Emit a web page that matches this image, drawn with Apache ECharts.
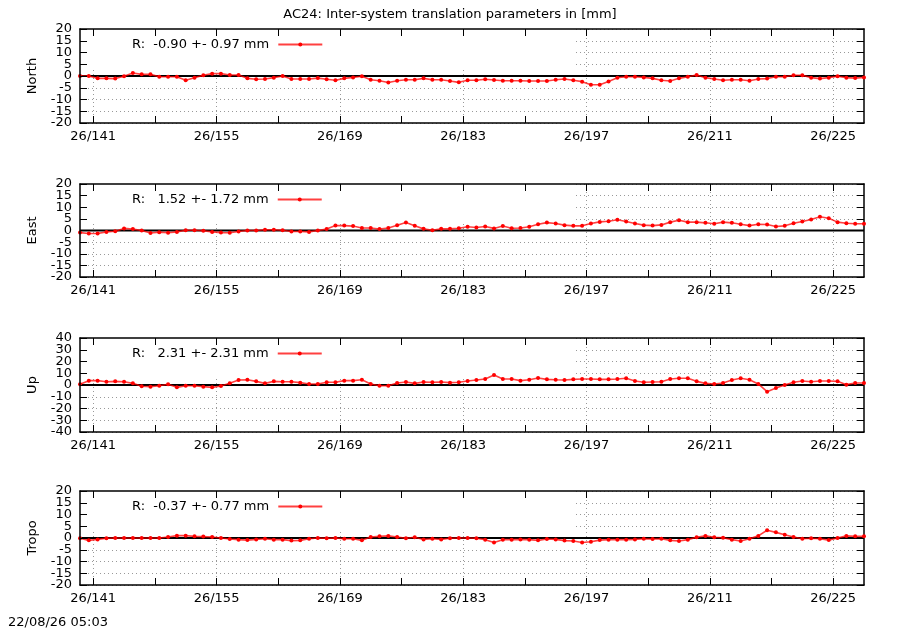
<!DOCTYPE html>
<html>
<head>
<meta charset="utf-8">
<title>AC24 inter-system translation parameters</title>
<script src="https://cdn.jsdelivr.net/npm/echarts@6/dist/echarts.min.js"></script>
<style>
	html, body { margin: 0; padding: 0; background: #fff; }
	#chart { width: 900px; height: 630px; }
</style>
</head>
<body>
<div id="chart"></div>
<script>
// texts
var TITLE = 'AC24: Inter-system translation parameters in [mm]';
var STAMP = '22/08/26 05:03';
var YEAR = '26';
var PANEL_NAMES = ['North', 'East', 'Up', 'Tropo'];
var KEY_TEXT = [
	'R:  -0.90 +- 0.97 mm ',
	'R:   1.52 +- 1.72 mm ',
	'R:   2.31 +- 2.31 mm ',
	'R:  -0.37 +- 0.77 mm '
];

// x axis (day of year), one point per day
var FIRST_DAY = 139.5;
var LAST_DAY = 228.5;
var TICK_DAYS = [141, 148, 155, 162, 169, 176, 183, 190, 197, 204, 211, 218, 225];
var LABEL_DAYS = [141, 155, 169, 183, 197, 211, 225];

// y axes
var Y_MAX = [20, 20, 40, 20];
var Y_STEP = [5, 5, 10, 5];

// values in mm
var NORTH = [0, 0, -1.0, -1.0, -1.1, -0.1, 1.3, 0.7, 0.7, -0.3,
	-0.3, -0.3, -1.8, -0.7, 0.3, 1.0, 1.0, 0.4, 0.4, -1.0,
	-1.4, -1.3, -0.7, 0.0, -1.3, -1.3, -1.3, -0.9, -1.4, -1.8,
	-1.0, -0.6, -0.1, -1.6, -2.0, -2.8, -2.0, -1.6, -1.6, -1.0,
	-1.6, -1.6, -2.1, -2.7, -1.8, -1.8, -1.4, -1.7, -2.0, -2.0,
	-2.0, -2.1, -2.1, -2.1, -1.6, -1.3, -1.8, -2.4, -3.7, -3.7,
	-2.3, -0.7, -0.3, -0.3, -0.6, -1.0, -1.8, -2.1, -1.0, -0.3,
	0.4, -0.7, -1.3, -1.8, -1.6, -1.6, -2.0, -1.3, -1.1, -0.3,
	-0.3, 0.3, 0.3, -0.7, -1.1, -0.7, -0.1, -0.7, -0.9, -0.6];
var EAST = [-0.9, -1.3, -1.3, -0.6, -0.3, 0.9, 0.6, 0, -1.1, -0.7,
	-1.0, -0.6, 0.1, 0.1, -0.1, -0.6, -0.9, -1.0, -0.4, 0,
	0, 0.3, 0.3, 0.1, -0.4, -0.4, -0.6, 0, 0.6, 2.1,
	2.1, 1.9, 1.1, 1.1, 0.6, 1.1, 2.3, 3.4, 2.0, 0.7,
	0.1, 0.7, 0.7, 1.0, 1.6, 1.3, 1.7, 0.9, 1.9, 1.0,
	1.1, 1.6, 2.7, 3.4, 3.0, 2.3, 2.0, 2.0, 3.0, 3.7,
	4.0, 4.6, 3.9, 3.0, 2.3, 2.1, 2.4, 3.6, 4.4, 3.6,
	3.6, 3.3, 2.9, 3.6, 3.3, 2.7, 2.1, 2.7, 2.6, 1.7,
	2.0, 3.1, 3.9, 4.7, 5.9, 5.3, 3.6, 3.1, 2.9, 2.9];
var UP = [0.6, 3.7, 3.7, 2.8, 3.1, 2.8, 1.4, -1.1, -1.4, -0.6,
	0.6, -2.0, -0.6, -0.6, -1.4, -2.0, -0.9, 1.4, 4.3, 4.5,
	3.1, 1.4, 3.1, 2.8, 2.8, 2.0, 0.9, 0.9, 2.3, 2.3,
	3.7, 3.7, 4.5, 0.9, -0.6, -0.6, 1.7, 2.6, 1.4, 2.6,
	2.3, 2.6, 2.0, 2.3, 3.4, 4.3, 5.1, 8.5, 5.1, 5.1,
	3.7, 4.5, 6.0, 4.8, 4.5, 4.3, 4.8, 5.1, 5.1, 4.8,
	4.8, 5.1, 5.7, 3.4, 2.3, 2.6, 2.8, 5.1, 5.7, 5.7,
	3.1, 1.4, 0.9, 1.7, 4.3, 5.7, 4.5, 0.9, -5.7, -2.6,
	0, 2.3, 3.4, 2.8, 3.4, 3.4, 3.1, 0.3, 1.7, 1.7];
var TROPO = [-0.1, -1.0, -0.6, -0.1, 0, 0, 0, 0, 0, 0,
	0.4, 1.0, 1.0, 0.7, 0.6, 0.4, 0, -0.4, -0.7, -0.9,
	-0.6, -0.3, -0.7, -0.7, -1.1, -1.0, -0.3, 0, -0.1, 0,
	-0.3, -0.3, -1.0, 0.4, 0.7, 0.9, 0.4, -0.1, 0.3, -0.6,
	-0.3, -0.6, -0.1, 0, 0, -0.1, -0.7, -1.9, -0.7, -0.7,
	-0.6, -0.7, -1.0, -0.4, -0.6, -1.1, -1.3, -1.9, -1.6, -0.9,
	-0.7, -0.7, -0.7, -0.6, -0.3, -0.4, -0.3, -1.0, -1.3, -0.7,
	0.3, 0.9, 0.3, 0.1, -0.7, -1.3, -0.3, 0.9, 3.3, 2.4,
	1.4, 0.4, -0.3, -0.1, -0.3, -0.9, 0, 0.9, 0.7, 0.7];
var PANEL_DATA = [NORTH, EAST, UP, TROPO];

// layout
var FONT = 'DejaVu Sans';
var LEFT = 80, RIGHT = 36;
var TOPS = [29, 184, 338, 491];
var HEIGHTS = [94, 93, 94, 94];
var KEY_W = 493, KEY_H = 38;

var chart = echarts.init(document.getElementById('chart'));

var grids = [], xAxes = [], yAxes = [], series = [], legends = [], graphics = [];
var black = { color: '#000', width: 1.5 };
var dotted = { color: '#999', width: 1, type: [1, 3] };
var tickStyle = { color: '#000', width: 1 };
var yLabelStyle = { margin: 8, color: '#000', fontFamily: FONT, fontSize: 13, showMinLabel: true, showMaxLabel: true };

var vGrid = LABEL_DAYS.map(function(d) { return { xAxis: d }; });

// y tick labels split in two sets so that ECharts does not drop the crowded ones
function yLabelSet(i, odd) {
	var out = [];
	for (var v = -Y_MAX[i] + (odd ? Y_STEP[i] : 0); v <= Y_MAX[i]; v += 2 * Y_STEP[i]) out.push(v);
	return out;
}

for (var i = 0; i < 4; i++) {
	grids.push({ left: LEFT, right: RIGHT, top: TOPS[i], height: HEIGHTS[i] });

	// bottom axis with labels
	xAxes.push({
		type: 'value', gridIndex: i, position: 'bottom', min: FIRST_DAY, max: LAST_DAY, z: 5,
		axisLine: { onZero: false, lineStyle: black },
		axisTick: { inside: true, length: 7, customValues: TICK_DAYS, lineStyle: tickStyle },
		axisLabel: {
			customValues: LABEL_DAYS, margin: 7, color: '#000', fontFamily: FONT, fontSize: 13,
			formatter: function(v) { return YEAR + '/' + v; }
		},
		splitLine: { show: false }
	});
	// top mirror
	xAxes.push({
		type: 'value', gridIndex: i, position: 'top', min: FIRST_DAY, max: LAST_DAY, z: 5,
		axisLine: { onZero: false, lineStyle: black },
		axisTick: { inside: true, length: 7, customValues: TICK_DAYS, lineStyle: tickStyle },
		axisLabel: { show: false },
		splitLine: { show: false }
	});

	// left: border, ticks, name, even labels
	yAxes.push({
		type: 'value', gridIndex: i, position: 'left', min: -Y_MAX[i], max: Y_MAX[i], interval: Y_STEP[i], z: 5,
		name: PANEL_NAMES[i], nameLocation: 'middle', nameGap: 41, nameRotate: 90,
		nameTextStyle: { color: '#000', fontFamily: FONT, fontSize: 13 },
		axisLine: { onZero: false, lineStyle: black },
		axisTick: { inside: true, length: 7, lineStyle: tickStyle },
		axisLabel: Object.assign({ customValues: yLabelSet(i, false) }, yLabelStyle),
		splitLine: { show: false }
	});
	// left: odd labels only
	yAxes.push({
		type: 'value', gridIndex: i, position: 'left', min: -Y_MAX[i], max: Y_MAX[i], interval: Y_STEP[i], z: 5,
		axisLine: { show: false, onZero: false },
		axisTick: { show: false },
		axisLabel: Object.assign({ customValues: yLabelSet(i, true) }, yLabelStyle),
		splitLine: { show: false }
	});
	// right mirror + horizontal grid
	yAxes.push({
		type: 'value', gridIndex: i, position: 'right', min: -Y_MAX[i], max: Y_MAX[i], interval: Y_STEP[i], z: 0,
		axisLine: { onZero: false, lineStyle: black },
		axisTick: { inside: true, length: 7, lineStyle: tickStyle },
		axisLabel: { show: false },
		splitLine: { show: true, lineStyle: dotted }
	});

	// zero line, plus vertical grid lines under the key box
	series.push({
		type: 'line', xAxisIndex: 2 * i, yAxisIndex: 3 * i, z: 2,
		data: [[FIRST_DAY, 0], [LAST_DAY, 0]], symbol: 'none', silent: true,
		lineStyle: { color: '#000', width: 2 },
		markLine: {
			z: 0, silent: true, symbol: 'none', animation: false,
			label: { show: false }, lineStyle: dotted, data: vGrid
		}
	});

	var vals = PANEL_DATA[i];
	var pts = [];
	for (var k = 0; k < vals.length; k++) pts.push([FIRST_DAY + k, vals[k]]);
	series.push({
		name: KEY_TEXT[i], type: 'line', xAxisIndex: 2 * i, yAxisIndex: 3 * i, z: 3,
		data: pts, symbol: 'circle', symbolSize: 4, showSymbol: true, showAllSymbol: true,
		lineStyle: { color: 'rgba(255,0,0,0.75)', width: 1.6 }, itemStyle: { color: '#ff0000' }
	});

	legends.push({
		data: [KEY_TEXT[i]], left: 132, top: TOPS[i] + 9, padding: 0, align: 'right',
		itemWidth: 44, itemHeight: 5, selectedMode: false,
		textStyle: { color: '#000', fontFamily: FONT, fontSize: 13 }
	});

	// opaque key box, like gnuplot
	graphics.push({
		type: 'rect', z: 1, silent: true,
		shape: { x: LEFT, y: TOPS[i], width: KEY_W, height: KEY_H },
		style: { fill: '#fff' }
	});
}

graphics.push({
	type: 'text', left: 8, top: 616, z: 10,
	style: { text: STAMP, fill: '#000', font: '13px "DejaVu Sans"' }
});

var option = {
	animation: false,
	backgroundColor: '#fff',
	title: {
		text: TITLE, left: 'center', top: 8, padding: 0,
		textStyle: { color: '#000', fontFamily: FONT, fontSize: 13, fontWeight: 'normal' }
	},
	grid: grids,
	xAxis: xAxes,
	yAxis: yAxes,
	legend: legends,
	graphic: graphics,
	series: series
};
chart.setOption(option);
</script>
</body>
</html>
